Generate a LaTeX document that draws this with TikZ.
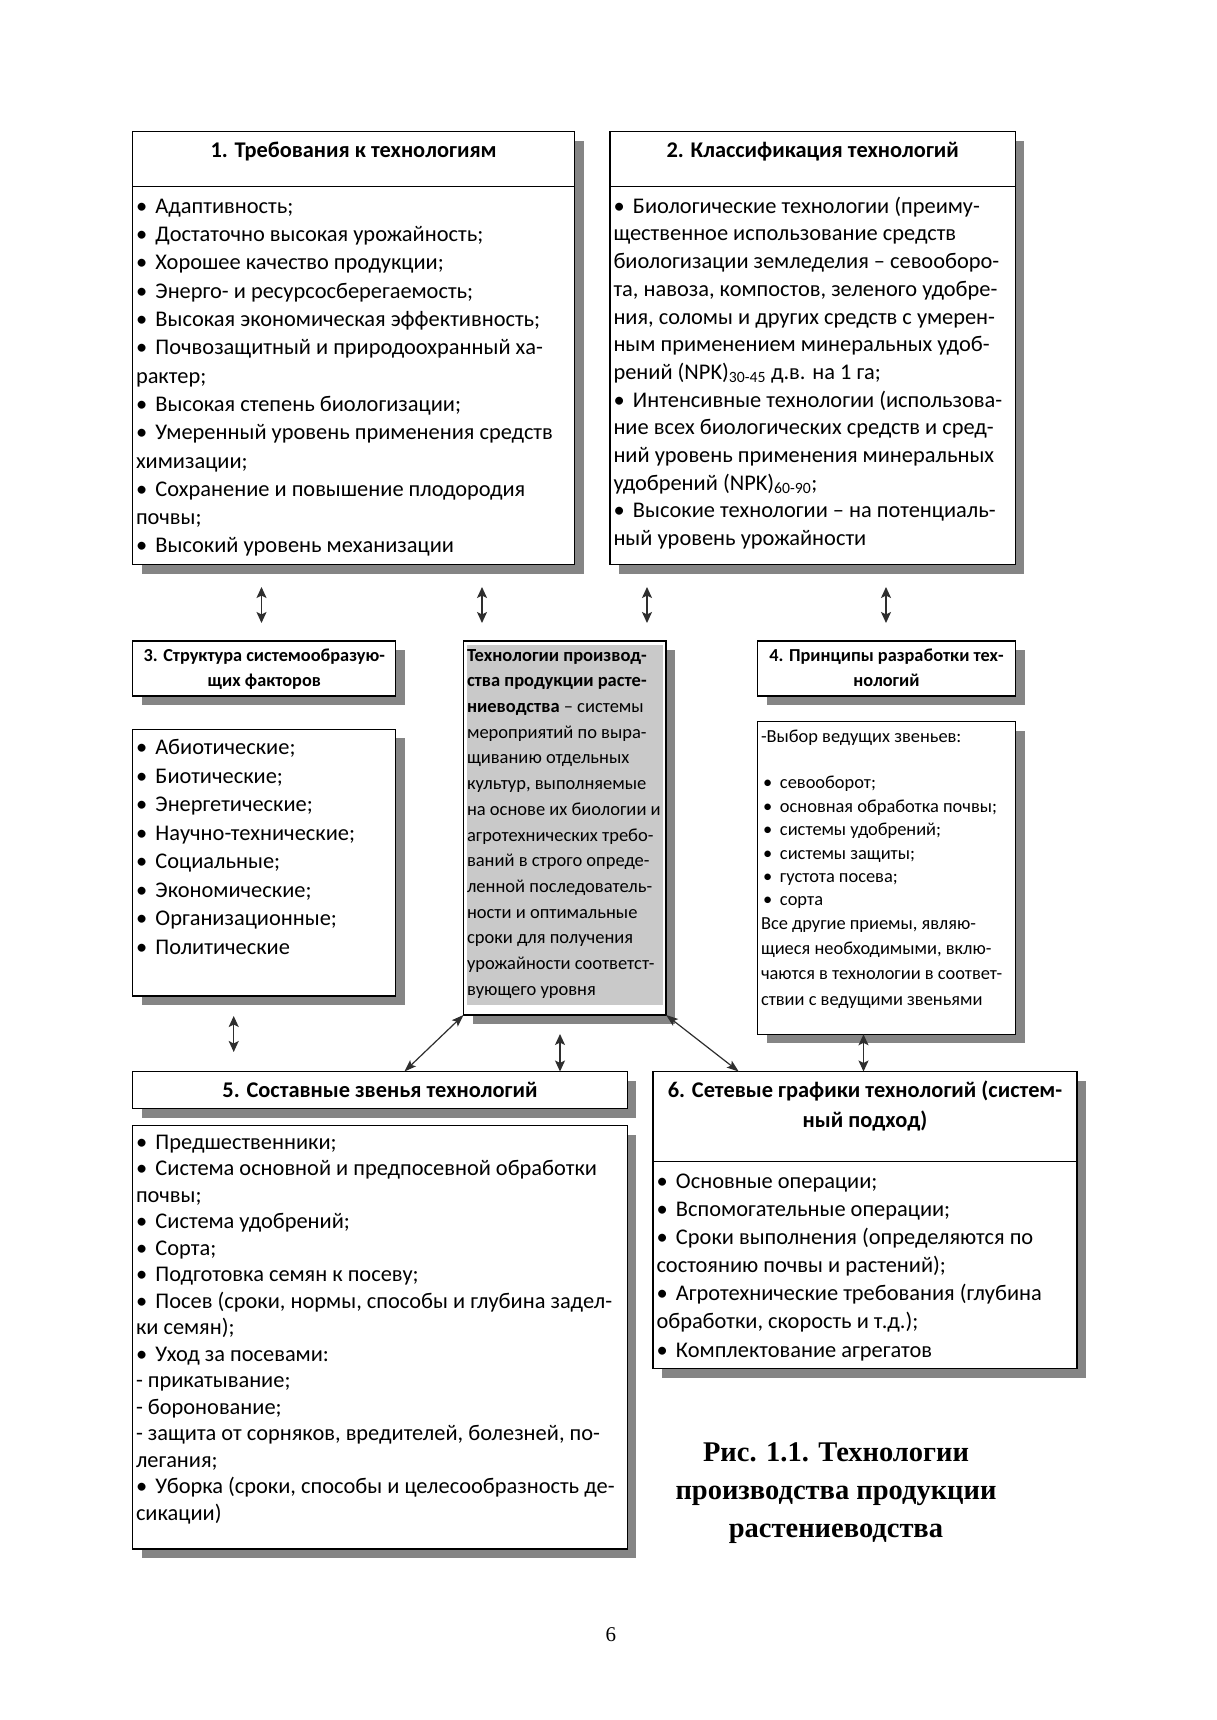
\documentclass[tikz,border=0pt]{standalone}
\usepackage{fontspec}
\setmainfont{Carlito}
\newfontfamily\capfont{Liberation Serif}
\usetikzlibrary{arrows.meta,shadows}
\newcommand{\bul}{\makebox[19.5pt][l]{•}}
\newcommand{\bulb}{\makebox[19pt][l]{\hspace{2pt}•}}
\begin{document}
\begin{tikzpicture}[x=1pt,y=-1pt,
  box/.style={draw=black, line width=1.3pt, fill=white, inner sep=0pt, outer sep=0pt, anchor=north west,
     general shadow={fill=black!48, shadow xshift=9pt, shadow yshift=-9pt}},
  txt/.style={anchor=north west, inner sep=0pt, outer sep=0pt, align=left},
  ttl/.style={inner sep=0pt, outer sep=0pt, align=center},
  dar/.style={draw=black!82, line width=1.4pt, {Stealth[length=11pt,width=10pt,inset=2.5pt]}-{Stealth[length=11pt,width=10pt,inset=2.5pt]}},
  dag/.style={draw=black!82, line width=1.2pt, {Stealth[length=12pt,width=8.5pt,inset=2.5pt]}-{Stealth[length=12pt,width=8.5pt,inset=2.5pt]}},
]
\fill[white] (0,0) rectangle (1216,1720);
\useasboundingbox (0,0) rectangle (1216,1720);

% boxes
\node[box, minimum width=441.9pt, minimum height=54.7pt] (b1t) at (132.7,131.7) {};
\node[box, minimum width=441.9pt, minimum height=378.3pt] (b1l) at (132.7,186.4) {};
\node[box, minimum width=405.4pt, minimum height=54.7pt] (b2t) at (610,131.7) {};
\node[box, minimum width=405.4pt, minimum height=378.3pt] (b2l) at (610,186.4) {};
\node[box, minimum width=263.1pt, minimum height=55pt] (b3t) at (132.7,641) {};
\node[box, minimum width=263.1pt, minimum height=266.8pt] (b3l) at (132.7,729.2) {};
\node[box, minimum width=202.6pt, minimum height=374pt] (c) at (463.5,641) {};
\node[fill=black!21, inner sep=0pt, outer sep=0pt, anchor=north west, minimum width=196pt, minimum height=360pt] (cfill) at (466.5,645) {};
\node[box, minimum width=258pt, minimum height=55pt] (b4t) at (757.5,641) {};
\node[box, minimum width=258pt, minimum height=312.6pt] (b4l) at (757.5,721.7) {};
\node[box, minimum width=494.6pt, minimum height=37pt] (b5t) at (132.7,1071.5) {};
\node[box, minimum width=494.6pt, minimum height=423.3pt] (b5l) at (132.7,1125.7) {};
\node[box, minimum width=424pt, minimum height=90pt] (b6t) at (653,1071.5) {};
\node[box, minimum width=424pt, minimum height=207pt] (b6l) at (653,1161.5) {};

% titles
\node[ttl, anchor=base, font=\bfseries\fontsize{22.4}{28.3}\selectfont] (h1) at (353.6,157.4) {1. Требования к технологиям};
\node[ttl, anchor=base, font=\bfseries\fontsize{22.4}{28.3}\selectfont] (h2) at (812.7,157.4) {2. Классификация технологий};
\node[ttl, anchor=north, font=\bfseries\fontsize{18.3}{24.5}\selectfont] (h3) at (264.3,644.5) {\strut 3. Структура системообразую-\\щих факторов};
\node[ttl, anchor=north, font=\bfseries\fontsize{18.3}{24.5}\selectfont] (h4) at (886.5,644.5) {\strut 4. Принципы разработки тех-\\нологий};
\node[ttl, anchor=base, font=\bfseries\fontsize{22.4}{28.3}\selectfont] (h5) at (380,1097.4) {5. Составные звенья технологий};
\node[ttl, anchor=north, font=\bfseries\fontsize{22.4}{30.3}\selectfont] (h6) at (865,1076.1) {\strut 6. Сетевые графики технологий (систем-\\ный подход)};

% lists
\node[txt, font=\fontsize{22.4}{28.3}\selectfont] (t1) at (136,193.5) {\strut\bul Адаптивность;\\
\bul Достаточно высокая урожайность;\\
\bul Хорошее качество продукции;\\
\bul Энерго- и ресурсосберегаемость;\\
\bul Высокая экономическая эффективность;\\
\bul Почвозащитный и природоохранный ха-\\
рактер;\\
\bul Высокая степень биологизации;\\
\bul Умеренный уровень применения средств\\
химизации;\\
\bul Сохранение и повышение плодородия\\
почвы;\\
\bul Высокий уровень механизации};

\node[txt, font=\fontsize{22.4}{27.7}\selectfont] (t2) at (613.5,193.9) {\strut\bul Биологические технологии (преиму-\\
щественное использование средств\\
биологизации земледелия – севооборо-\\
та, навоза, компостов, зеленого удобре-\\
ния, соломы и других средств с умерен-\\
ным применением минеральных удоб-\\
рений (NPK)\textsubscript{30-45} д.в. на 1 га;\\
\bul Интенсивные технологии (использова-\\
ние всех биологических средств и сред-\\
ний уровень применения минеральных\\
удобрений (NPK)\textsubscript{60-90};\\
\bul Высокие технологии – на потенциаль-\\
ный уровень урожайности};

\node[txt, font=\fontsize{22.4}{28.5}\selectfont] (t3) at (136,734.9) {\strut\bul Абиотические;\\
\bul Биотические;\\
\bul Энергетические;\\
\bul Научно-технические;\\
\bul Социальные;\\
\bul Экономические;\\
\bul Организационные;\\
\bul Политические};

\node[txt, font=\fontsize{18.5}{25.7}\selectfont] (tc) at (467,643.1) {\strut\textbf{Технологии производ-}\\
\textbf{ства продукции расте-}\\
\textbf{ниеводства} – системы\\
мероприятий по выра-\\
щиванию отдельных\\
культур, выполняемые\\
на основе их биологии и\\
агротехнических требо-\\
ваний в строго опреде-\\
ленной последователь-\\
ности и оптимальные\\
сроки для получения\\
урожайности соответст-\\
вующего уровня};

\node[txt, font=\fontsize{18.4}{23.4}\selectfont] (t4) at (761,725.7) {\strut-Выбор ведущих звеньев:\\[23.4pt]
\bulb севооборот;\\
\bulb основная обработка почвы;\\
\bulb системы удобрений;\\
\bulb системы защиты;\\
\bulb густота посева;\\
\bulb сорта\\
Все другие приемы, являю-\\[1.8pt]
щиеся необходимыми, вклю-\\[1.8pt]
чаются в технологии в соответ-\\[2.5pt]
ствии с ведущими звеньями};

\node[txt, font=\fontsize{22.4}{26.5}\selectfont] (t5) at (136,1130.8) {\strut\bul Предшественники;\\
\bul Система основной и предпосевной обработки\\
почвы;\\
\bul Система удобрений;\\
\bul Сорта;\\
\bul Подготовка семян к посеву;\\
\bul Посев (сроки, нормы, способы и глубина задел-\\
ки семян);\\
\bul Уход за посевами:\\
- прикатывание;\\
- боронование;\\
- защита от сорняков, вредителей, болезней, по-\\
легания;\\
\bul Уборка (сроки, способы и целесообразность де-\\
сикации)};

\node[txt, font=\fontsize{22.4}{28.1}\selectfont] (t6) at (656.5,1168.8) {\strut\bul Основные операции;\\
\bul Вспомогательные операции;\\
\bul Сроки выполнения (определяются по\\
состоянию почвы и растений);\\
\bul Агротехнические требования (глубина\\
обработки, скорость и т.д.);\\
\bul Комплектование агрегатов};

% caption and page number
\node[ttl, anchor=north, font=\capfont\bfseries\fontsize{28.5}{37.8}\selectfont] (cap) at (836,1435) {\strut Рис. 1.1. Технологии\\производства продукции\\растениеводства};
\node[inner sep=0pt, anchor=base, font=\capfont\fontsize{21}{25}\selectfont] (pg) at (610.8,1641) {6};

% connectors
\coordinate (a1s) at (261.5,587); \coordinate (a1e) at (261.5,623);
\coordinate (a2s) at (482,587);   \coordinate (a2e) at (482,623);
\coordinate (a3s) at (647,587);   \coordinate (a3e) at (647,623);
\coordinate (a4s) at (886,587);   \coordinate (a4e) at (886,623);
\coordinate (a5s) at (233.7,1016); \coordinate (a5e) at (233.7,1052);
\coordinate (a6e) at (404.4,1071.5);
\coordinate (a7s) at (560,1034);  \coordinate (a7e) at (560,1071.5);
\coordinate (a8e) at (738.7,1071.5);
\coordinate (a9s) at (863.5,1034.3); \coordinate (a9e) at (863.5,1071.5);
\draw[dar] (a1s) -- (a1e);
\draw[dar] (a2s) -- (a2e);
\draw[dar] (a3s) -- (a3e);
\draw[dar] (a4s) -- (a4e);
\draw[dar] (a5s) -- (a5e);
\draw[dag] (c.south west) -- (a6e);
\draw[dar] (a7s) -- (a7e);
\draw[dag] (c.south east) -- (a8e);
\draw[dar] (a9s) -- (a9e);
\end{tikzpicture}
\end{document}
